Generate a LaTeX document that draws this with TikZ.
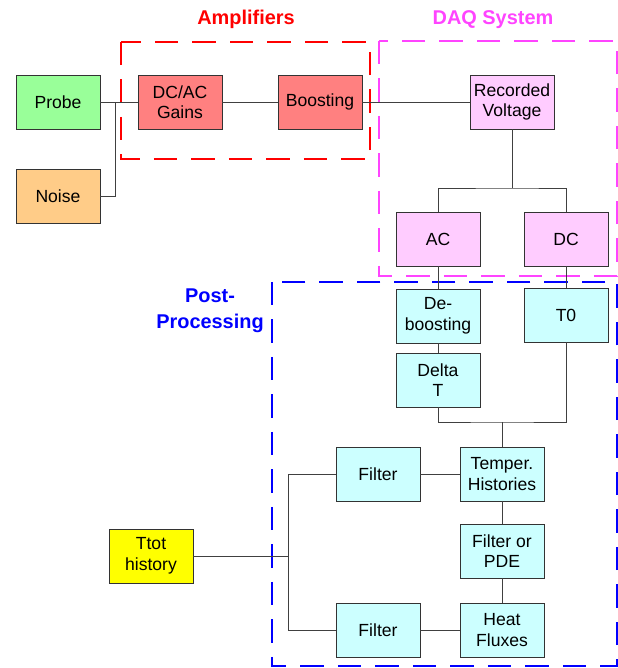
\documentclass[tikz,border=0pt]{standalone}
\usepackage{fontspec}
\setmainfont{Liberation Sans}
\definecolor{probegreen}{RGB}{153,255,153}
\definecolor{noiseorange}{RGB}{255,204,136}
\definecolor{ampred}{RGB}{255,128,128}
\definecolor{daqpink}{RGB}{255,204,255}
\definecolor{daqmagenta}{RGB}{255,68,255}
\definecolor{postcyan}{RGB}{204,255,255}
\definecolor{ttotyellow}{RGB}{255,255,0}
\tikzset{
  block/.style={draw=black!80, line width=0.6pt, minimum width=2.52cm,
    minimum height=1.62cm, align=center, inner sep=1pt,
    font=\fontsize{15}{17.5}\selectfont},
  wire/.style={draw=black!75, line width=0.6pt},
  groupbox/.style={line width=1.6pt, dash pattern=on 20pt off 12pt},
  grouplabel/.style={align=center, font=\fontsize{17}{22.5}\selectfont\bfseries},
}
\begin{document}
\begin{tikzpicture}[x=0.03cm, y=-0.03cm, line cap=butt, line join=miter]
  \useasboundingbox (0,0) rectangle (618,668);
  % dashed groups
  \draw[groupbox, red] (121,42) rectangle (370,159);
  \draw[groupbox, daqmagenta] (379,41) rectangle (617,276);
  \draw[groupbox, blue] (272,282) rectangle (617,666);
  \node[grouplabel, text=red] (amplabel) at (246,19) {Amplifiers};
  \node[grouplabel, text=daqmagenta] (daqlabel) at (493,20) {DAQ System};
  \node[grouplabel, text=blue] (postlabel) at (210,311) {Post-\\Processing};
  % blocks
  \node[block, fill=probegreen] (probe) at (58,102) {Probe};
  \node[block, fill=noiseorange] (noise) at (58,196) {Noise};
  \node[block, fill=ampred] (gains) at (180,102) {DC/AC\\Gains};
  \node[block, fill=ampred] (boost) at (320,102) {Boosting};
  \node[block, fill=daqpink] (recv) at (512,102) {Recorded\\Voltage};
  \node[block, fill=daqpink] (ac) at (438,239) {AC};
  \node[block, fill=daqpink] (dc) at (566,239) {DC};
  \node[block, fill=postcyan] (deboost) at (438,316) {De-\\boosting};
  \node[block, fill=postcyan] (tzero) at (566,315) {T0};
  \node[block, fill=postcyan] (deltat) at (438,380) {Delta\\T};
  \node[block, fill=postcyan] (temper) at (502,474) {Temper.\\Histories};
  \node[block, fill=postcyan] (filtera) at (378,474) {Filter};
  \node[block, fill=postcyan] (filterpde) at (502,551) {Filter or\\PDE};
  \node[block, fill=postcyan] (heat) at (502,630) {Heat\\Fluxes};
  \node[block, fill=postcyan] (filterb) at (378,630) {Filter};
  \node[block, fill=ttotyellow] (ttot) at (151,556) {Ttot\\history};
  % junctions
  \coordinate (ampjoin) at (115,102);
  \coordinate (daqsplit) at (512,188);
  \coordinate (ppjoin) at (502,422);
  \coordinate (ttjoin) at (288,556);
  % connectors
  \draw[wire] (probe) -- (gains);
  \draw[wire] (noise.east) -| (ampjoin);
  \draw[wire] (gains) -- (boost);
  \draw[wire] (boost) -- (recv);
  \draw[wire] (recv.south) -- (daqsplit);
  \draw[wire] (ac.north) |- (daqsplit) -| (dc.north);
  \draw[wire] (ac) -- (deboost);
  \draw[wire] (dc) -- (tzero);
  \draw[wire] (deboost) -- (deltat);
  \draw[wire] (deltat.south) |- (ppjoin) -| (tzero.south);
  \draw[wire] (ppjoin) -- (temper.north);
  \draw[wire] (filtera) -- (temper);
  \draw[wire] (temper) -- (filterpde);
  \draw[wire] (filterpde) -- (heat);
  \draw[wire] (filterb) -- (heat);
  \draw[wire] (ttot) -- (ttjoin);
  \draw[wire] (filtera.west) -| (ttjoin);
  \draw[wire] (filterb.west) -| (ttjoin);
\end{tikzpicture}
\end{document}
